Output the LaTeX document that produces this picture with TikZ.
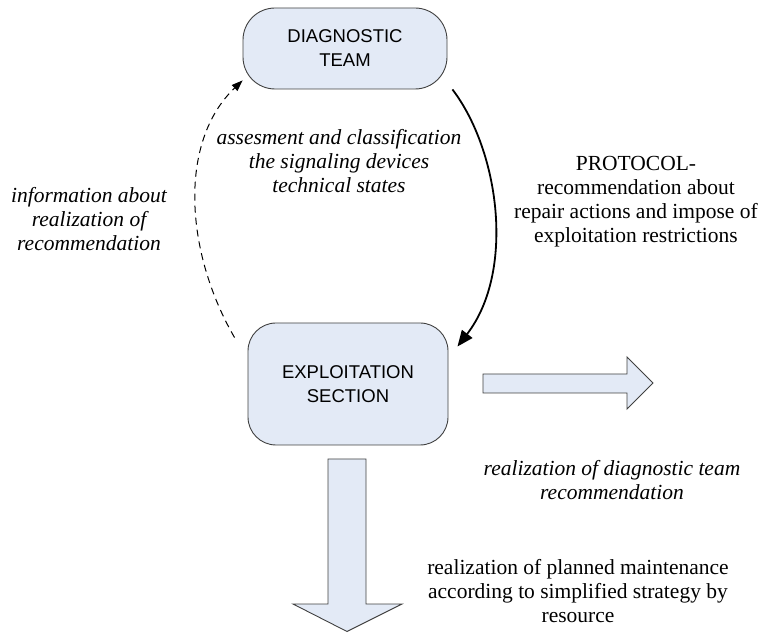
\documentclass[tikz,border=0pt]{standalone}
\usepackage{fontspec}
\setmainfont{Liberation Serif}
\newfontfamily\boxfont{Liberation Sans}
\usepackage{tikz}
\usetikzlibrary{arrows.meta, positioning, calc}
\definecolor{boxfill}{RGB}{227,234,246}
\definecolor{boxline}{RGB}{64,64,64}

\begin{document}
\begin{tikzpicture}[x=1pt, y=1pt, unit/.style={draw=boxline, fill=boxfill,
      line width=0.9pt, align=center, inner sep=0pt,
      font=\boxfont\fontsize{18.5}{24}\selectfont}, note/.style={align=center,
      font=\fontsize{21.5}{24}\selectfont}, inote/.style={note,
      font=\itshape\fontsize{21.5}{24}\selectfont}, blockarrow/.style={draw=boxline,
      fill=boxfill, line width=0.9pt, line join=miter}, flowarc/.style={line
      width=1.8pt, -{Triangle[length=16pt, width=13pt]}}, backarc/.style={line
      width=1pt, dash pattern=on 7pt off 5pt, -{Triangle[length=11pt,
      width=8pt]}}, ]
    \useasboundingbox (0,0) rectangle (763,632);

    % Units
    \node[unit, minimum width=204, minimum height=81, rounded corners=32] (dt)
    at (345,583.5) {DIAGNOSTIC\\TEAM}; \node[unit, minimum width=200, minimum
    height=122, rounded corners=28] (es) at (348,248) {EXPLOITATION\\SECTION};

    % Protocol arc and feedback arc
    \draw[flowarc] ([xshift=5]dt.south east) .. controls (500,480) and
    (515,360) .. ([xshift=9, yshift=-24]es.north east); \draw[backarc]
    ([xshift=-13, yshift=-15]es.north west) .. controls (185,380) and (178,490)
    .. ([yshift=9]dt.south west);

    % Block arrows
    \draw[blockarrow] (483,258) -- (627,258) -- (627,275) -- (653,249) --
    (627,223) -- (627,239) -- (483,239) -- cycle; \draw[blockarrow] (328,173)
    -- (328,28) -- (293,28) -- (347,0.5) -- (402,28) -- (366,28) -- (366,173)
    -- cycle;

    % Labels
    \node[inote] (assess) at (339,471) {assesment and classification\\the
    signaling devices\\technical states}; \node[inote] (info) at (89,413)
    {information about\\realization of\\recommendation}; \node[note]
    (protocol) at (636,430) {PROTOCOL-\\recommendation about\\repair actions
    and impose of\\exploitation restrictions}; \node[inote] (realize) at
    (612,152) {realization of diagnostic team\\recommendation}; \node[note]
    (planned) at (578,41) {realization of planned maintenance\\according to
    simplified strategy by\\resource};

\end{tikzpicture}
\end{document}
